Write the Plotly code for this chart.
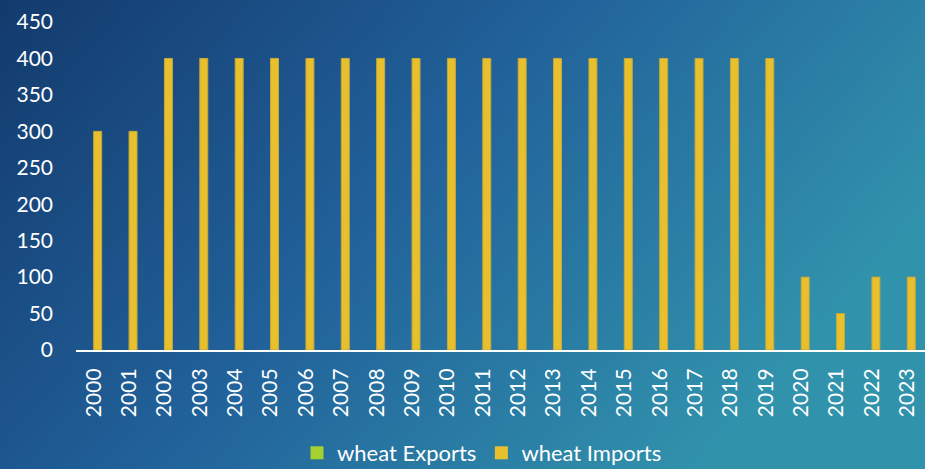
import base64
import plotly.graph_objects as go

years = [str(y) for y in range(2000, 2024)]
exports = [0] * 24
imports = [300, 300, 400, 400, 400, 400, 400, 400, 400, 400, 400, 400,
           400, 400, 400, 400, 400, 400, 400, 400, 100, 50, 100, 100]
series_names = ["wheat Exports", "wheat Imports"]
series_colors = ["#A5D130", "#E8C02E"]

W, H = 925, 469
ML, MR, MT, MB = 76, 0, 22, 119
PW, PH = W - ML - MR, H - MT - MB

svg = f'''<svg xmlns="http://www.w3.org/2000/svg" width="{W}" height="{H}" viewBox="0 0 {W} {H}" preserveAspectRatio="none">
<defs><linearGradient id="g" x1="0" y1="0" x2="1" y2="0.45">
<stop offset="0" stop-color="#133A6D"/>
<stop offset="0.5" stop-color="#21619A"/>
<stop offset="1" stop-color="#3192AC"/>
</linearGradient></defs>
<rect width="{W}" height="{H}" fill="url(#g)"/></svg>'''
uri = "data:image/svg+xml;base64," + base64.b64encode(svg.encode()).decode()

font = "Lato"

fig = go.Figure()
fig.add_trace(go.Bar(x=years, y=exports, name=series_names[0], showlegend=False,
                     marker=dict(color=series_colors[0], line=dict(width=0))))
fig.add_trace(go.Bar(x=years, y=imports, name=series_names[1], showlegend=False,
                     marker=dict(color=series_colors[1], line=dict(color="#C7A83A", width=1))))
# legend entries with square swatches
for nm, col in zip(series_names, series_colors):
    fig.add_trace(go.Scatter(x=[None], y=[None], mode="markers", name=nm,
                             marker=dict(symbol="square", size=13, color=col)))

fig.update_layout(
    width=W, height=H,
    margin=dict(l=ML, r=MR, t=MT, b=MB),
    paper_bgcolor="#1E5590", plot_bgcolor="rgba(0,0,0,0)",
    barmode="group", bargap=0.55, bargroupgap=0,
    font=dict(family=font, color="white", size=21),
    images=[dict(source=uri, xref="paper", yref="paper",
                 x=-ML / PW, y=1 + MT / PH, sizex=W / PW, sizey=H / PH,
                 xanchor="left", yanchor="top", sizing="stretch", layer="below")],
    legend=dict(orientation="h", xref="container", yref="container",
                x=482 / W, y=(H - 453) / H, xanchor="center", yanchor="middle",
                font=dict(size=22, color="white"), itemwidth=30,
                tracegroupgap=0, bgcolor="rgba(0,0,0,0)"),
    xaxis=dict(showgrid=False, showline=True, linecolor="white", linewidth=2,
               tickangle=-90, ticks="", ticklabelstandoff=8,
               tickfont=dict(size=21, color="white")),
    yaxis=dict(range=[0, 450], dtick=50, showgrid=False, zeroline=False,
               showline=False, ticks="", ticklabelstandoff=22,
               tickfont=dict(size=21, color="white")),
)

fig.write_html("out.html")
